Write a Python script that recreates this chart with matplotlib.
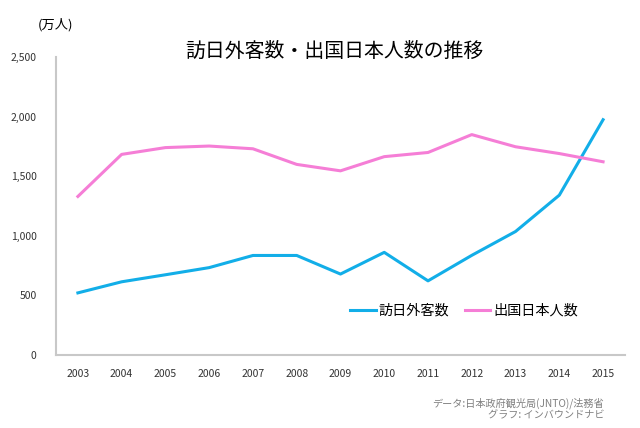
import matplotlib
matplotlib.use("Agg")
import matplotlib.pyplot as plt
from matplotlib.ticker import FuncFormatter

plt.rcParams['font.family'] = ['Noto Sans CJK JP', 'DejaVu Sans']

years = ['2003', '2004', '2005', '2006', '2007', '2008', '2009',
         '2010', '2011', '2012', '2013', '2014', '2015']
# 万人
inbound = [521, 614, 673, 733, 835, 835, 679, 861, 622, 836, 1036, 1341, 1974]
outbound = [1330, 1683, 1740, 1753, 1730, 1599, 1545, 1664, 1699, 1849, 1747, 1690, 1621]

fig = plt.figure(figsize=(6.4, 4.28), dpi=100)
ax = fig.add_axes([0.0875, 0.1706, 0.889, 0.6962])

x = range(len(years))
ax.plot(x, inbound, color='#12aee8', lw=2.2, label='訪日外客数')
ax.plot(x, outbound, color='#f57ed6', lw=2.2, label='出国日本人数')

ax.set_xlim(-0.5, len(years) - 0.5)
ax.set_ylim(0, 2500)
ax.set_yticks(range(0, 2501, 500))
ax.yaxis.set_major_formatter(FuncFormatter(lambda v, p: f'{int(v):,}'))
ax.set_xticks(list(x))
ax.set_xticklabels(years)

for s in ['top', 'right']:
    ax.spines[s].set_visible(False)
for s in ['left', 'bottom']:
    ax.spines[s].set_color('#c8c8c8')
    ax.spines[s].set_linewidth(1.5)
ax.tick_params(length=0, labelsize=7.5, colors='#333333')
ax.tick_params(axis='y', pad=14)
ax.tick_params(axis='x', pad=10)

fig.text(0.522, 0.881, '訪日外客数・出国日本人数の推移', ha='center', va='center', fontsize=14.3)
fig.text(0.087, 0.942, '(万人)', ha='center', va='center', fontsize=9.5)

ax.legend(loc='center', bbox_to_anchor=(0.717, 0.148), ncol=2, frameon=False,
          fontsize=10.2, handlelength=1.8, handletextpad=0.2, columnspacing=1.1)

fig.text(0.944, 0.058, 'データ:日本政府観光局(JNTO)/法務省', ha='right', va='center',
         fontsize=7.3, color='#808080')
fig.text(0.944, 0.030, 'グラフ: インバウンドナビ', ha='right', va='center',
         fontsize=7.3, color='#808080')

fig.savefig('out.png', dpi=100)
